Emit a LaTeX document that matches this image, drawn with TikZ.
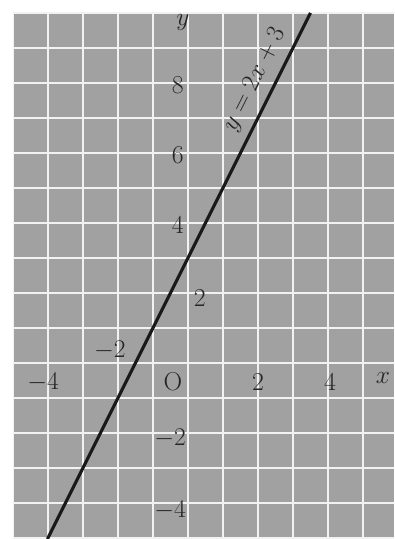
\documentclass[tikz,border=0pt]{standalone}
\usepackage{amsmath}
\usepackage{tikz}
\usetikzlibrary{calc}

\begin{document}
\begin{tikzpicture}
        \def\xmin{-5}
        \def\xmax{5.9}
        \def\ymin{-5.03}
        \def\ymax{10}
        \definecolor{halftone}{gray}{0.63}
        \tikzset{lab/.style={font=\fontsize{21}{24}\selectfont, inner sep=0pt, text=black!85}}

        \useasboundingbox (-5.37,\ymin) rectangle (\xmax,10.37);

        % Paper and grid
        \fill[halftone] (\xmin,\ymin) rectangle (\xmax,\ymax);
        \begin{scope}
            \clip (\xmin,\ymin) rectangle (\xmax,\ymax);
            \draw[white!95!black, line width=1.3pt] (-5,-5) grid (6,10);
        \end{scope}

        % Line y = 2x + 3
        \coordinate (lo) at ({(\ymin-3)/2},\ymin);
        \coordinate (hi) at ({(\ymax-3)/2},\ymax);
        \draw[line width=2.6pt, black!90] (lo) -- (hi);
        \node[lab, font=\fontsize{19.5}{22}\selectfont, rotate=63.43] (eq) at (1.91,8.09) {$y=2x+3$};

        % Axis labels
        \node[lab] (ylab) at (-0.14,9.74) {$y$};
        \node[lab] (xlab) at (5.57,-0.43) {$x$};
        \node[lab] (orig) at (-0.43,-0.54) {O};

        \node[lab] (y8) at (-0.29,7.94) {8};
        \node[lab] (y6) at (-0.29,5.94) {6};
        \node[lab] (y4) at (-0.29,3.94) {4};
        \node[lab] (y2) at (0.34,1.86) {2};
        \node[lab] (ym2) at (-0.51,-2.14) {$-2$};
        \node[lab] (ym4) at (-0.51,-4.2) {$-4$};

        \node[lab] (xm4) at (-4.14,-0.54) {$-4$};
        \node[lab] (xm2) at (-2.23,0.37) {$-2$};
        \node[lab] (x2) at (2,-0.54) {2};
        \node[lab] (x4) at (4.06,-0.54) {4};
    \end{tikzpicture}
\end{document}
